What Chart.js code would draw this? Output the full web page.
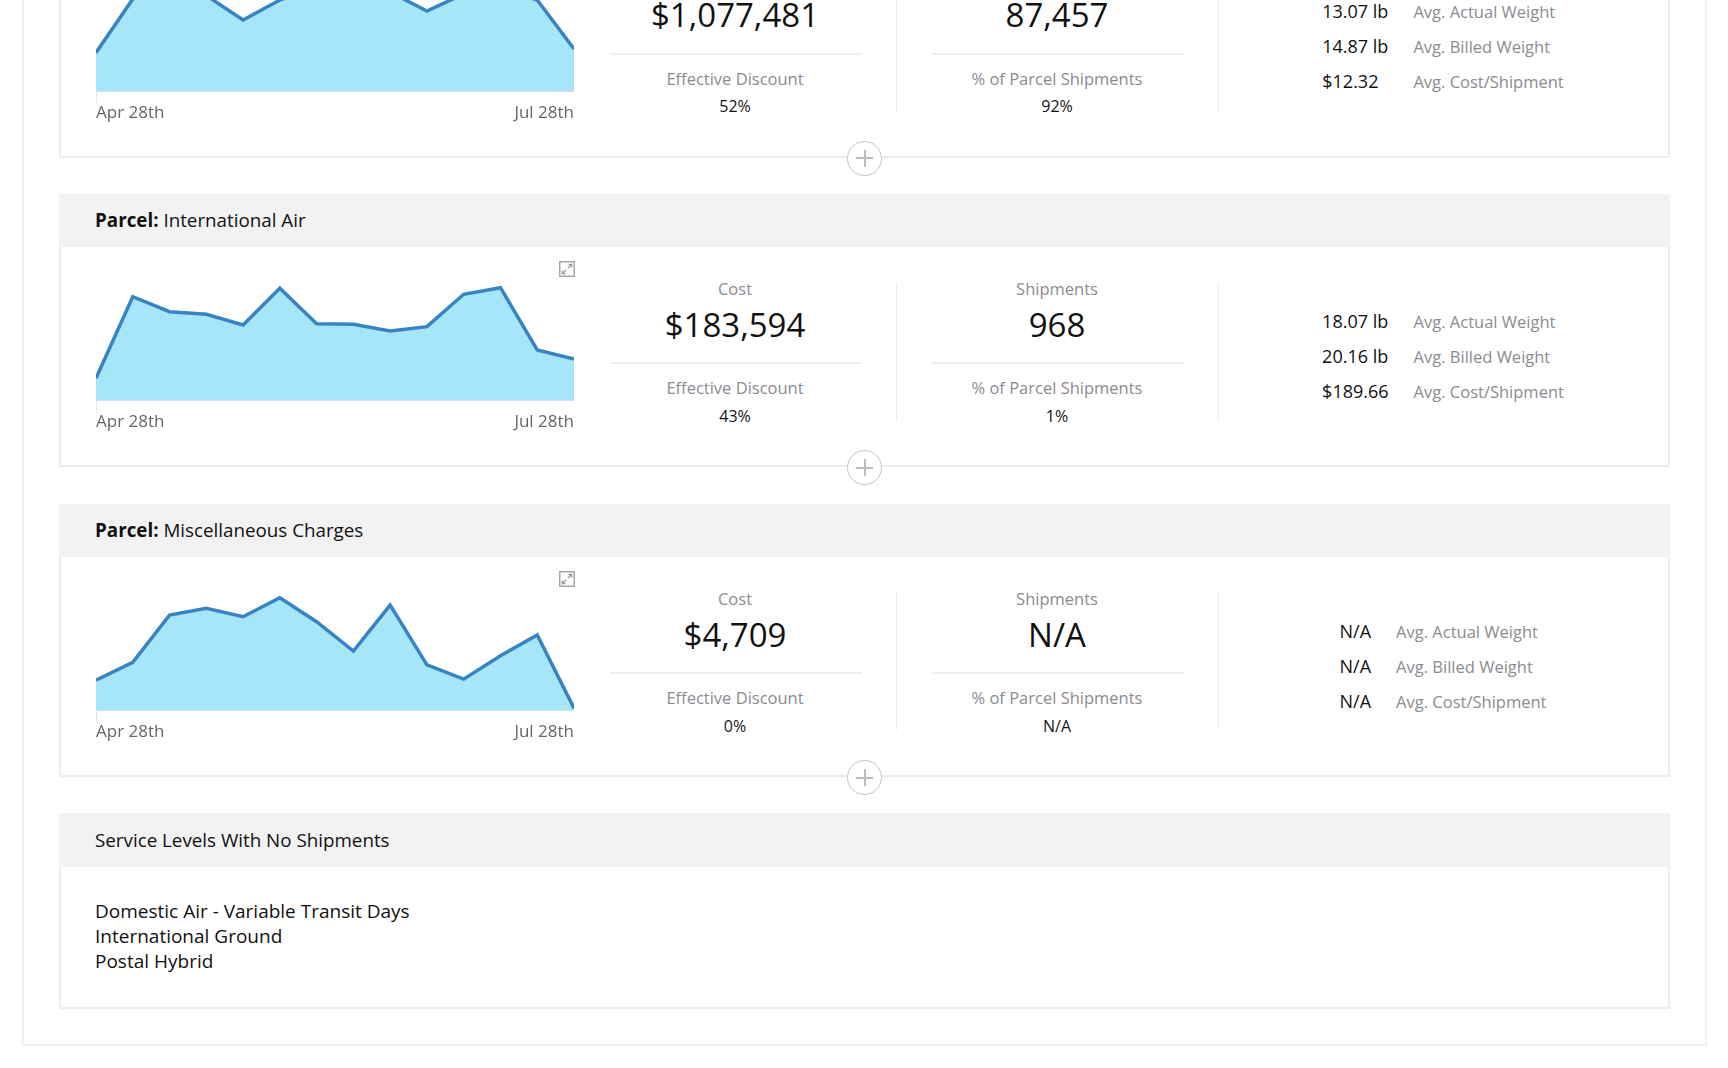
<!DOCTYPE html>
<html>
<head>
<meta charset="utf-8">
<script src="https://cdn.jsdelivr.net/npm/chart.js@4.4.1/dist/chart.umd.min.js"></script>
<style>
  html, body { margin: 0; padding: 0; background: #fff; }
  body { width: 1728px; height: 1068px; overflow: hidden; position: relative; font-family: "Open Sans", sans-serif; color: #151515; }
  .abs { position: absolute; }
  .outer { position: absolute; left: 22px; top: -300px; width: 1685px; height: 1346px; box-shadow: inset 0 0 0 2px #f1f1f1; }
  .card { position: absolute; left: 59px; width: 1611px; box-shadow: inset 0 0 0 2px #ededed; background: transparent; }
  .hdr { position: absolute; left: 0; top: 0; width: 1611px; background: #f2f2f2; }
  .title { position: absolute; left: 36px; transform: translateY(-50%); font-size: 18.8px; line-height: 1; white-space: nowrap; color: #111; }
  .title b { font-weight: 700; }
  .ctr { position: absolute; transform: translate(-50%, -50%); white-space: nowrap; line-height: 1; }
  .lbl { font-size: 16.5px; color: #8b8b90; }
  .big { font-size: 33px; color: #111; }
  .small { font-size: 16px; color: #151515; }
  .hline { position: absolute; height: 2px; background: #efefef; }
  .vline { position: absolute; width: 1px; background: #ededed; }
  .stats { position: absolute; transform: translateX(-50%); display: grid; grid-template-columns: auto auto; column-gap: 25px; }
  .stats div { line-height: 35px; height: 35px; white-space: nowrap; }
  .sv { font-size: 18px; color: #111; }
  .sl { font-size: 16.5px; color: #8b8b90; }
  .plus { position: absolute; width: 33px; height: 33px; border: 1.5px solid #c4c4c4; border-radius: 50%; background: #fff; }
  .plus:before, .plus:after { content: ""; position: absolute; background: #bdbdbd; }
  .plus:before { left: 8px; top: 15.5px; width: 17px; height: 2px; }
  .plus:after { left: 15.5px; top: 8px; width: 2px; height: 17px; }
  .list { position: absolute; left: 36px; font-size: 19px; line-height: 25px; color: #111; }
</style>
</head>
<body>
<div class="outer"></div>
<script>
// ---------- data ----------
const weekLabels = ['Apr 28th','May 5th','May 12th','May 19th','May 26th','Jun 2nd','Jun 9th','Jun 16th','Jun 23rd','Jun 30th','Jul 7th','Jul 14th','Jul 21st','Jul 28th'];

// weekly cost (USD)
const groundCost   = [33700, 80900, 94900, 83900, 62400, 80000, 92300, 98400, 87000, 70300, 85300, 91400, 80000, 36900];
const intlAirCost  = [3660, 17420, 14890, 14450, 12650, 18830, 12860, 12760, 11630, 12360, 17820, 18930, 8430, 6910];
const miscCost     = [150, 239, 476, 510, 468, 563, 443, 296, 526, 226, 155, 272, 376, 9];

// y-axis upper bounds for each sparkline
const groundMax  = 105500;
const intlAirMax = 20230;
const miscMax    = 602;

const statLabels   = ['Avg. Actual Weight', 'Avg. Billed Weight', 'Avg. Cost/Shipment'];
const groundStats  = ['13.07 lb', '14.87 lb', '$12.32'];
const intlAirStats = ['18.07 lb', '20.16 lb', '$189.66'];
const miscStats    = ['N/A', 'N/A', 'N/A'];

const groundSummary  = ['$1,077,481', '87,457', '52%', '92%'];
const intlAirSummary = ['$183,594', '968', '43%', '1%'];
const miscSummary    = ['$4,709', 'N/A', '0%', 'N/A'];

const noShipmentLevels = ['Domestic Air - Variable Transit Days', 'International Ground', 'Postal Hybrid'];

// ---------- helpers ----------
function el(tag, parent, cls, css, html) {
  const e = document.createElement(tag);
  if (cls) e.className = cls;
  if (css) e.style.cssText = css;
  if (html !== undefined) e.innerHTML = html;
  parent.appendChild(e);
  return e;
}

function makeChart(canvas, values, yMax) {
  const last = weekLabels.length - 1;
  return new Chart(canvas, {
    type: 'line',
    data: {
      labels: weekLabels,
      datasets: [{
        data: values,
        fill: 'origin',
        backgroundColor: '#a7e5f8',
        borderColor: '#3784c3',
        borderWidth: 3.5,
        pointRadius: 0,
        pointHoverRadius: 0,
        tension: 0,
        clip: { left: 0, right: 0, top: 5, bottom: 0 }
      }]
    },
    options: {
      responsive: false,
      animation: false,
      events: [],
      layout: { padding: 0 },
      plugins: { legend: { display: false }, tooltip: { enabled: false } },
      scales: {
        x: {
          offset: false,
          grid: {
            drawOnChartArea: false,
            drawTicks: true,
            tickLength: 12,
            lineWidth: 1,
            color: (ctx) => (ctx.index === 0 || ctx.index === last) ? '#dfe3f3' : 'rgba(0,0,0,0)'
          },
          border: { display: true, color: '#d6dcf2', width: 2 },
          ticks: {
            autoSkip: false,
            maxRotation: 0,
            minRotation: 0,
            align: 'inner',
            padding: 0,
            color: '#666666',
            font: { family: 'Open Sans', size: 17 },
            callback: (v, i) => (i === 0 || i === last) ? weekLabels[i] : ''
          },
          afterFit: (s) => { s.height = 34; }
        },
        y: { display: false, min: 0, max: yMax }
      }
    }
  });
}

function buildCard(top, titleHtml, summary, stats, values, yMax, showTopLabels) {
  const card = el('div', document.body, 'card', `top:${top}px;height:273px;`);
  el('div', card, 'hdr', 'height:53px;');
  if (titleHtml) el('div', card, 'title', 'top:26px;', titleHtml);

  const wrap = el('div', card, 'abs', 'left:37px;top:86px;width:478px;height:154px;');
  const cv = el('canvas', wrap);
  cv.width = 478; cv.height = 154;
  cv.style.width = '478px'; cv.style.height = '154px';
  makeChart(cv, values, yMax);

  const icon = el('div', card, 'abs', 'left:500px;top:66px;width:16px;height:16px;');
  icon.innerHTML = '<svg width="16" height="16" viewBox="0 0 16 16"><rect x="0.75" y="0.75" width="14.5" height="14.5" fill="none" stroke="#a8a8a8" stroke-width="1.5"/>' +
    '<path d="M9 7 L12.5 3.5 M9.5 3.3 H12.7 V6.5" fill="none" stroke="#9a9a9a" stroke-width="1.3"/>' +
    '<path d="M7 9 L3.5 12.5 M3.3 9.5 V12.7 H6.5" fill="none" stroke="#9a9a9a" stroke-width="1.3"/></svg>';

  // column 1
  if (showTopLabels) el('div', card, 'ctr lbl', 'left:676px;top:95px;', 'Cost');
  el('div', card, 'ctr big', 'left:676px;top:129.5px;', summary[0]);
  el('div', card, 'hline', 'left:551px;top:168px;width:252px;');
  el('div', card, 'ctr lbl', 'left:676px;top:194px;', 'Effective Discount');
  el('div', card, 'ctr small', 'left:676px;top:221.5px;', summary[2]);
  el('div', card, 'vline', 'left:837px;top:89px;height:137px;');
  // column 2
  if (showTopLabels) el('div', card, 'ctr lbl', 'left:998px;top:95px;', 'Shipments');
  el('div', card, 'ctr big', 'left:998px;top:129.5px;', summary[1]);
  el('div', card, 'hline', 'left:873px;top:168px;width:252px;');
  el('div', card, 'ctr lbl', 'left:998px;top:194px;', '% of Parcel Shipments');
  el('div', card, 'ctr small', 'left:998px;top:221.5px;', summary[3]);
  el('div', card, 'vline', 'left:1159px;top:89px;height:137px;');
  // column 3
  const st = el('div', card, 'stats', 'left:1384px;top:109.5px;');
  for (let i = 0; i < stats.length; i++) {
    el('div', st, 'sv', '', stats[i]);
    el('div', st, 'sl', '', statLabels[i]);
  }
  el('div', card, 'plus', 'left:788px;top:256px;');
}

buildCard(-115.5, '', groundSummary, groundStats, groundCost, groundMax, false);
buildCard(194, '<b>Parcel:</b> International Air', intlAirSummary, intlAirStats, intlAirCost, intlAirMax, true);
buildCard(504, '<b>Parcel:</b> Miscellaneous Charges', miscSummary, miscStats, miscCost, miscMax, true);

// no-shipment card
const lastCard = el('div', document.body, 'card', 'top:813px;height:196px;');
el('div', lastCard, 'hdr', 'height:54px;');
el('div', lastCard, 'title', 'top:27px;', 'Service Levels With No Shipments');
el('div', lastCard, 'list', 'top:85.5px;', noShipmentLevels.join('<br>'));
</script>
</body>
</html>
